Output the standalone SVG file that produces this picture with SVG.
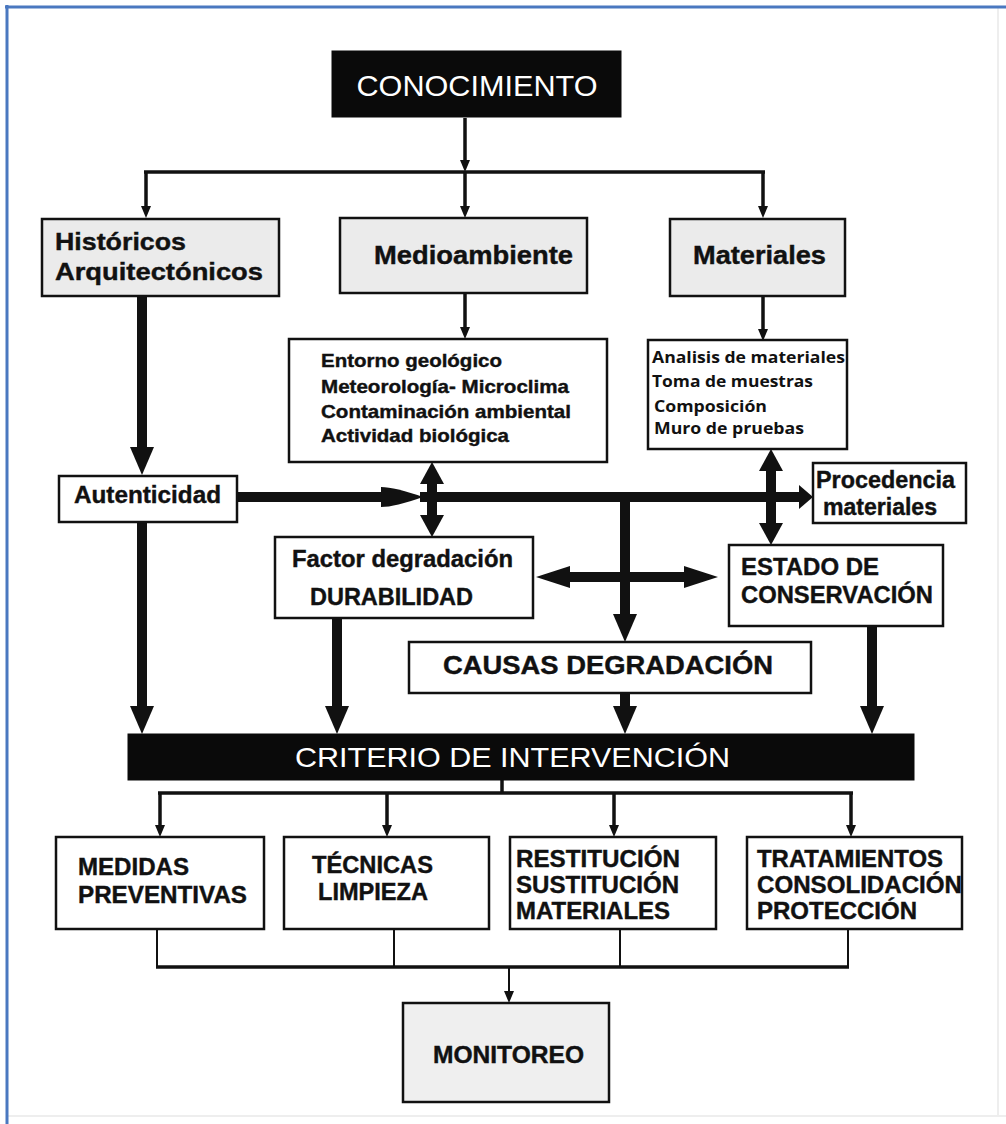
<svg xmlns="http://www.w3.org/2000/svg" width="1006" height="1124" viewBox="0 0 1006 1124">
<style>
  .box{fill:#ffffff;stroke:#111;stroke-width:2.5}
  .gbox{fill:#ebebeb;stroke:#111;stroke-width:2.5}
  .blk{fill:#0a0a0a;stroke:#0a0a0a;stroke-width:1}
  .t{font-family:"Liberation Sans",Arial,sans-serif;font-weight:bold;fill:#111;stroke:#111;stroke-width:0.4}
  .w{font-family:"Liberation Sans",Arial,sans-serif;font-weight:normal;fill:#ffffff}
  .m{font-family:"Open Sans","Liberation Sans",sans-serif;font-weight:700;fill:#111}
  .thin{fill:none;stroke:#111;stroke-width:3.5}
  .hair{fill:none;stroke:#111;stroke-width:2}
  .thick{fill:none;stroke:#111;stroke-width:10}
</style>
<defs>
  <marker id="as" markerUnits="userSpaceOnUse" markerWidth="12" markerHeight="10" viewBox="0 0 12 10" refX="0" refY="5" orient="auto-start-reverse"><path d="M0,0 L12,5 L0,10z" fill="#111"/></marker>
  <marker id="at" markerUnits="userSpaceOnUse" markerWidth="28" markerHeight="24" viewBox="0 0 28 24" refX="0" refY="12" orient="auto-start-reverse"><path d="M0,0 L28,12 L0,24z" fill="#111"/></marker>
  <marker id="ad" markerUnits="userSpaceOnUse" markerWidth="22" markerHeight="24" viewBox="0 0 22 24" refX="0" refY="12" orient="auto-start-reverse"><path d="M0,0 L22,12 L0,24z" fill="#111"/></marker>
  <marker id="ah" markerUnits="userSpaceOnUse" markerWidth="34" markerHeight="22" viewBox="0 0 34 22" refX="0" refY="11" orient="auto-start-reverse"><path d="M0,0 L34,11 L0,22z" fill="#111"/></marker>
  <marker id="aa" markerUnits="userSpaceOnUse" markerWidth="42" markerHeight="20" viewBox="0 0 42 20" refX="0" refY="10" orient="auto-start-reverse"><path d="M0,0 Q14,0 42,10 Q14,20 0,20z" fill="#111"/></marker>
  <marker id="ap" markerUnits="userSpaceOnUse" markerWidth="14" markerHeight="24" viewBox="0 0 14 24" refX="0" refY="12" orient="auto-start-reverse"><path d="M0,0 L14,12 L0,24z" fill="#111"/></marker>
</defs>
<rect x="0" y="0" width="1006" height="1124" fill="#ffffff"/>
<g id="frame">
  <line x1="998" y1="8" x2="998" y2="1116" stroke="#eeeeee" stroke-width="2"/>
  <line x1="7" y1="1116" x2="1006" y2="1116" stroke="#eeeeee" stroke-width="2"/>
  <line x1="5" y1="7" x2="1006" y2="7" stroke="#4a78c0" stroke-width="3"/>
  <line x1="7" y1="5" x2="7" y2="1124" stroke="#4a78c0" stroke-width="3"/>
</g>
<g id="connectors">
  <path class="thin" d="M465,118 V160" marker-end="url(#as)"/>
  <path class="thin" d="M144,172 H765"/>
  <path class="thin" d="M465,172 V206" marker-end="url(#as)"/>
  <path class="thin" d="M146,172 V206" marker-end="url(#as)"/>
  <path class="thin" d="M763,172 V206" marker-end="url(#as)"/>
  <path class="thin" d="M465,293 V327" marker-end="url(#as)"/>
  <path class="thin" d="M763,296 V329" marker-end="url(#as)"/>
  <path class="thick" d="M142,296 V447" marker-end="url(#at)"/>
  <path class="thick" d="M237,497 H381" marker-end="url(#aa)"/>
  <path class="thick" d="M420,497 H799" marker-end="url(#ap)"/>
  <path class="thick" d="M432,484 V515" marker-start="url(#ad)" marker-end="url(#ad)"/>
  <path class="thick" d="M771,471 V523" marker-start="url(#ad)" marker-end="url(#ad)"/>
  <path class="thick" d="M625,493 V614" marker-end="url(#at)"/>
  <path class="thick" d="M570,577 H684" marker-start="url(#ah)" marker-end="url(#ah)"/>
  <path class="thick" d="M142,522 V706" marker-end="url(#at)"/>
  <path class="thick" d="M337,618 V706" marker-end="url(#at)"/>
  <path class="thick" d="M625,693 V706" marker-end="url(#at)"/>
  <path class="thick" d="M872,626 V706" marker-end="url(#at)"/>
  <path class="thin" d="M502,780 V793"/>
  <path class="thin" d="M158,793 H853"/>
  <path class="thin" d="M160,793 V825" marker-end="url(#as)"/>
  <path class="thin" d="M387,793 V825" marker-end="url(#as)"/>
  <path class="thin" d="M614,793 V825" marker-end="url(#as)"/>
  <path class="thin" d="M851,793 V825" marker-end="url(#as)"/>
  <path class="hair" d="M157,929 V967"/>
  <path class="hair" d="M394,929 V967"/>
  <path class="hair" d="M620,929 V967"/>
  <path class="hair" d="M848,929 V967"/>
  <path class="thin" d="M156,967 H849"/>
  <path class="hair" d="M509,967 V991" marker-end="url(#as)"/>
</g>
<g id="conocimiento">
  <rect class="blk" x="332" y="51" width="289" height="66"/>
  <text class="w" x="477" y="96" font-size="30" text-anchor="middle" textLength="241" lengthAdjust="spacingAndGlyphs">CONOCIMIENTO</text>
</g>
<g id="historicos">
  <rect class="gbox" x="42" y="219" width="237" height="77"/>
  <text class="t" x="55" y="250" font-size="24" textLength="131" lengthAdjust="spacingAndGlyphs">Históricos</text>
  <text class="t" x="55" y="280" font-size="24" textLength="208" lengthAdjust="spacingAndGlyphs">Arquitectónicos</text>
</g>
<g id="medioambiente">
  <rect class="gbox" x="340" y="218" width="247" height="75"/>
  <text class="t" x="374" y="264" font-size="25" textLength="199" lengthAdjust="spacingAndGlyphs">Medioambiente</text>
</g>
<g id="materiales">
  <rect class="gbox" x="670" y="219" width="175" height="77"/>
  <text class="t" x="693" y="264" font-size="25" textLength="133" lengthAdjust="spacingAndGlyphs">Materiales</text>
</g>
<g id="entorno">
  <rect class="box" x="289" y="339" width="318" height="123"/>
  <text class="t" x="321" y="367" font-size="18.5" textLength="181" lengthAdjust="spacingAndGlyphs">Entorno geológico</text>
  <text class="t" x="321" y="393" font-size="18.5" textLength="248" lengthAdjust="spacingAndGlyphs">Meteorología- Microclima</text>
  <text class="t" x="321" y="418" font-size="18.5" textLength="250" lengthAdjust="spacingAndGlyphs">Contaminación ambiental</text>
  <text class="t" x="321" y="442" font-size="18.5" textLength="188" lengthAdjust="spacingAndGlyphs">Actividad biológica</text>
</g>
<g id="analisis">
  <rect class="box" x="648" y="340" width="199" height="109"/>
  <text class="m" x="652" y="363" font-size="16.5" textLength="193" lengthAdjust="spacingAndGlyphs">Analisis de materiales</text>
  <text class="m" x="652" y="387" font-size="16.5" textLength="161" lengthAdjust="spacingAndGlyphs">Toma de muestras</text>
  <text class="m" x="654" y="412" font-size="16.5" textLength="113" lengthAdjust="spacingAndGlyphs">Composición</text>
  <text class="m" x="654" y="434" font-size="16.5" textLength="150" lengthAdjust="spacingAndGlyphs">Muro de pruebas</text>
</g>
<g id="autenticidad">
  <rect class="box" x="59" y="476" width="178" height="46"/>
  <text class="t" x="74" y="503" font-size="24" textLength="147" lengthAdjust="spacingAndGlyphs">Autenticidad</text>
</g>
<g id="procedencia">
  <rect class="box" x="813" y="463" width="153" height="60"/>
  <text class="t" x="816" y="488" font-size="23" textLength="139" lengthAdjust="spacingAndGlyphs">Procedencia</text>
  <text class="t" x="823" y="515" font-size="23" textLength="114" lengthAdjust="spacingAndGlyphs">materiales</text>
</g>
<g id="factor">
  <rect class="box" x="275" y="537" width="258" height="81"/>
  <text class="t" x="292" y="567" font-size="23" textLength="221" lengthAdjust="spacingAndGlyphs">Factor degradación</text>
  <text class="t" x="310" y="605" font-size="24" textLength="163" lengthAdjust="spacingAndGlyphs">DURABILIDAD</text>
</g>
<g id="estado">
  <rect class="box" x="729" y="545" width="214" height="81"/>
  <text class="t" x="741" y="575" font-size="24" textLength="138" lengthAdjust="spacingAndGlyphs">ESTADO DE</text>
  <text class="t" x="741" y="603" font-size="24" textLength="192" lengthAdjust="spacingAndGlyphs">CONSERVACIÓN</text>
</g>
<g id="causas">
  <rect class="box" x="409" y="642" width="402" height="51"/>
  <text class="t" x="443" y="674" font-size="25" textLength="330" lengthAdjust="spacingAndGlyphs">CAUSAS DEGRADACIÓN</text>
</g>
<g id="criterio">
  <rect class="blk" x="128" y="734" width="786" height="46"/>
  <text class="w" x="295" y="767" font-size="28" textLength="435" lengthAdjust="spacingAndGlyphs">CRITERIO DE INTERVENCIÓN</text>
</g>
<g id="medidas">
  <rect class="box" x="56" y="837" width="208" height="92"/>
  <text class="t" x="78" y="875" font-size="23" textLength="111" lengthAdjust="spacingAndGlyphs">MEDIDAS</text>
  <text class="t" x="78" y="903" font-size="23" textLength="169" lengthAdjust="spacingAndGlyphs">PREVENTIVAS</text>
</g>
<g id="tecnicas">
  <rect class="box" x="284" y="837" width="205" height="92"/>
  <text class="t" x="312" y="873" font-size="23" textLength="121" lengthAdjust="spacingAndGlyphs">TÉCNICAS</text>
  <text class="t" x="318" y="900" font-size="23" textLength="110" lengthAdjust="spacingAndGlyphs">LIMPIEZA</text>
</g>
<g id="restitucion">
  <rect class="box" x="510" y="837" width="206" height="92"/>
  <text class="t" x="516" y="867" font-size="23" textLength="164" lengthAdjust="spacingAndGlyphs">RESTITUCIÓN</text>
  <text class="t" x="516" y="893" font-size="23" textLength="163" lengthAdjust="spacingAndGlyphs">SUSTITUCIÓN</text>
  <text class="t" x="516" y="919" font-size="23" textLength="154" lengthAdjust="spacingAndGlyphs">MATERIALES</text>
</g>
<g id="tratamientos">
  <rect class="box" x="747" y="837" width="215" height="92"/>
  <text class="t" x="757" y="867" font-size="23" textLength="186" lengthAdjust="spacingAndGlyphs">TRATAMIENTOS</text>
  <text class="t" x="757" y="893" font-size="23" textLength="205" lengthAdjust="spacingAndGlyphs">CONSOLIDACIÓN</text>
  <text class="t" x="757" y="919" font-size="23" textLength="160" lengthAdjust="spacingAndGlyphs">PROTECCIÓN</text>
</g>
<g id="monitoreo">
  <rect class="gbox" x="403" y="1003" width="206" height="99" style="fill:#efefef"/>
  <text class="t" x="433" y="1063" font-size="23" textLength="151" lengthAdjust="spacingAndGlyphs">MONITOREO</text>
</g>
</svg>
